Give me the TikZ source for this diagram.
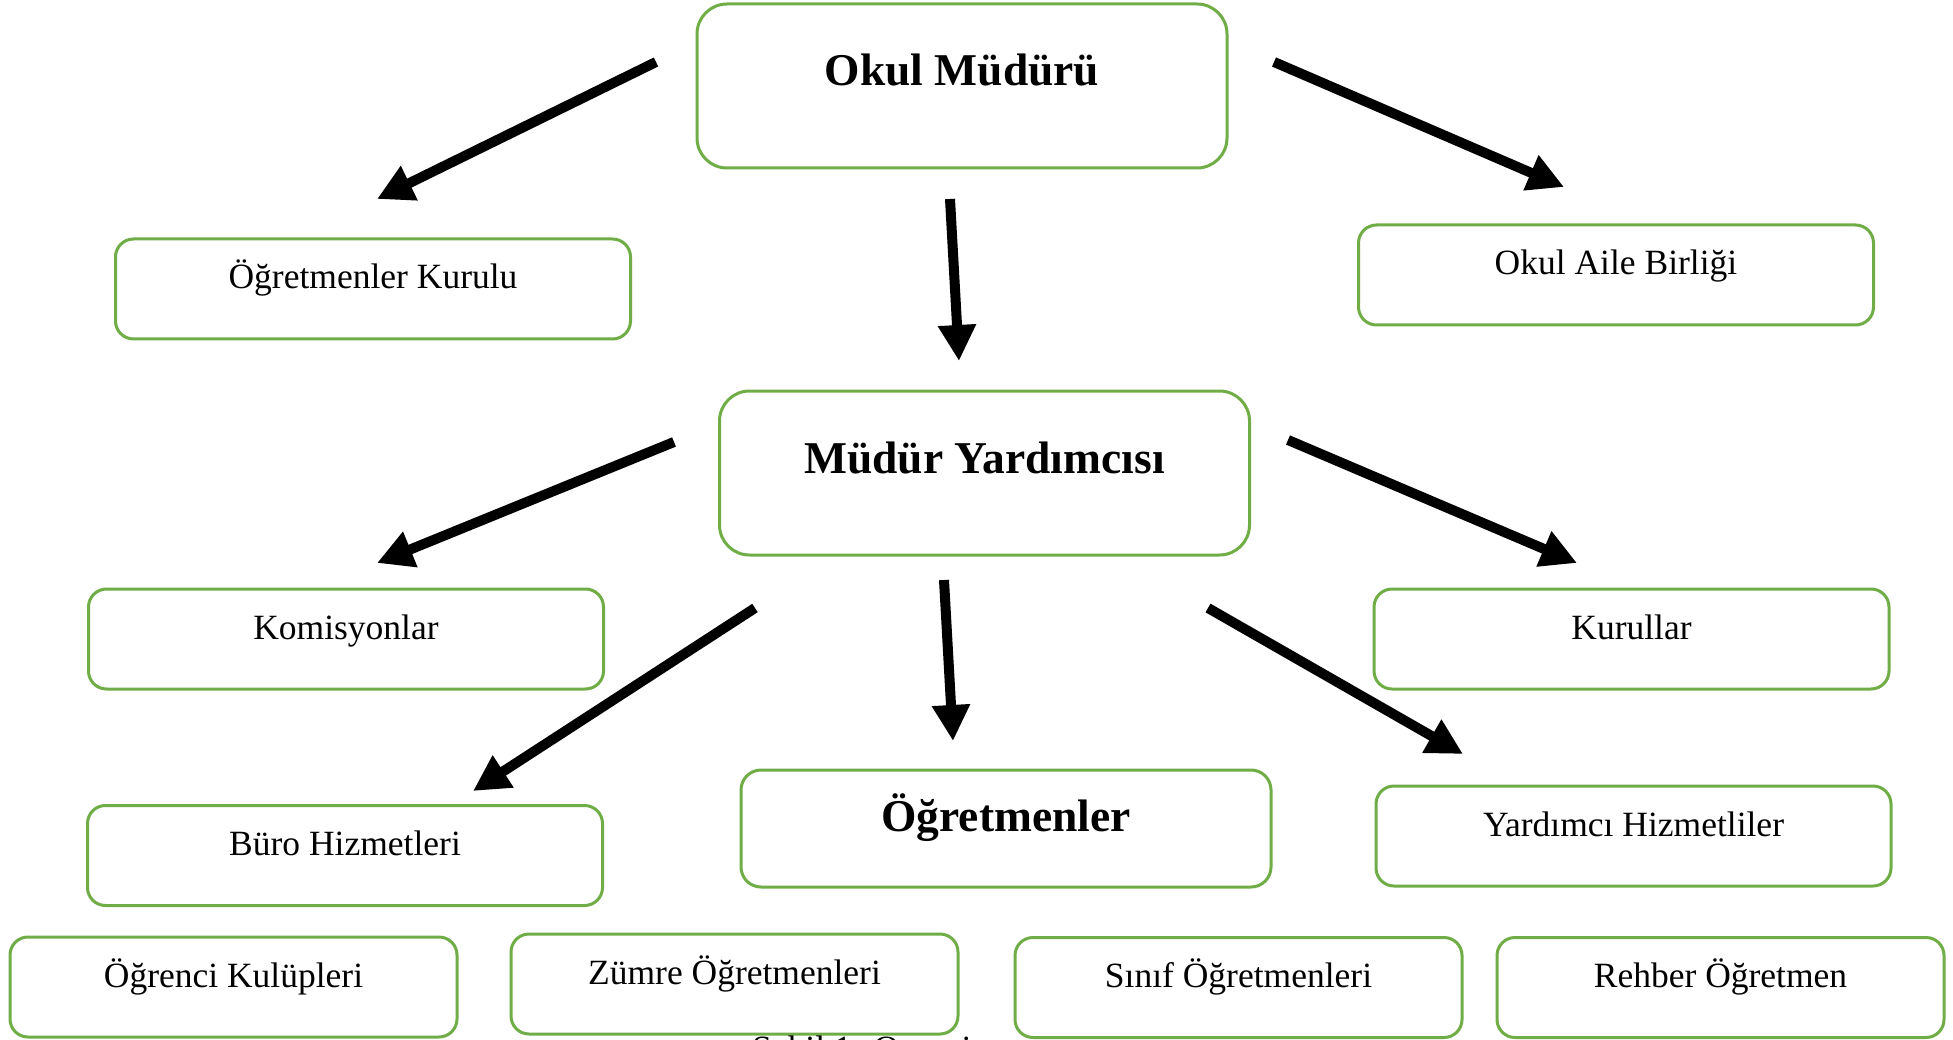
\documentclass[tikz,border=0pt]{standalone}
\usepackage{fontspec}
\setmainfont{Liberation Serif}
\usetikzlibrary{arrows.meta}
\definecolor{boxgreen}{RGB}{112,173,71}
\begin{document}
\begin{tikzpicture}[x=1pt,y=-1pt,
  boxbase/.style={draw=boxgreen, line width=3pt, fill=white, inner xsep=0pt, inner ysep=0pt, align=center},
  smallbox/.style={boxbase, rounded corners=18pt, minimum width=515pt, minimum height=100pt,
    text height=50pt, text depth=50pt, font=\fontsize{35.5}{40}\selectfont},
  lowbox/.style={boxbase, rounded corners=18pt, minimum width=447pt, minimum height=100pt,
    text height=50pt, text depth=50pt, font=\fontsize{35.5}{40}\selectfont},
  bigbox/.style={boxbase, rounded corners=30pt, minimum width=530pt, minimum height=164pt,
    text height=82pt, text depth=82pt, font=\fontsize{45.5}{52}\selectfont\bfseries},
  midbox/.style={boxbase, rounded corners=20pt, minimum width=530pt, minimum height=117pt,
    text height=61pt, text depth=56pt, font=\fontsize{45.5}{52}\selectfont\bfseries},
  arr/.style={line width=10pt, -{Triangle[length=36pt,width=36pt]}}]
\clip (0,0) rectangle (1953,1040);
\fill[white] (0,0) rectangle (1953,1040);

\node[bigbox] (mudur) at (962,86) {Okul Müdürü};
\node[smallbox] (kurul) at (373,289) {Öğretmenler Kurulu};
\node[smallbox] (aile) at (1616,275) {Okul Aile Birliği};
\node[bigbox] (yard) at (984.5,473) {Müdür Yardımcısı};
\node[smallbox] (komis) at (346,639) {Komisyonlar};
\node[smallbox] (kurullar) at (1631.5,639) {Kurullar};
\node[smallbox] (buro) at (345,855.5) {Büro Hizmetleri};
\node[midbox] (ogret) at (1006,828.5) {Öğretmenler};
\node[smallbox] (hizmet) at (1633.5,836) {Yardımcı Hizmetliler};
\node[lowbox] (kulup) at (233.5,987) {Öğrenci Kulüpleri};
\node[lowbox] (zumre) at (734.5,984) {Zümre Öğretmenleri};
\node[lowbox] (sinif) at (1238.5,987.5) {Sınıf Öğretmenleri};
\node[lowbox] (rehber) at (1720.5,987.5) {Rehber Öğretmen};

\node[anchor=north west, inner sep=0pt, font=\fontsize{35.5}{40}\selectfont] (caption) at (752,1036) {Şekil 1: Organi};

\coordinate (a1s) at (656,62);   \coordinate (a1e) at (377,199);
\coordinate (a2s) at (1274,62);  \coordinate (a2e) at (1564,187);
\coordinate (a3s) at (950,199);  \coordinate (a3e) at (959,361);
\coordinate (a4s) at (674,442);  \coordinate (a4e) at (377,563);
\coordinate (a5s) at (1288,440); \coordinate (a5e) at (1577,563);
\coordinate (a6s) at (755,608);  \coordinate (a6e) at (473,791);
\coordinate (a7s) at (944,580);  \coordinate (a7e) at (953,741);
\coordinate (a8s) at (1208,608); \coordinate (a8e) at (1463,754);

\draw[arr] (a1s) -- (a1e);
\draw[arr] (a2s) -- (a2e);
\draw[arr] (a3s) -- (a3e);
\draw[arr] (a4s) -- (a4e);
\draw[arr] (a5s) -- (a5e);
\draw[arr] (a6s) -- (a6e);
\draw[arr] (a7s) -- (a7e);
\draw[arr] (a8s) -- (a8e);
\end{tikzpicture}
\end{document}
